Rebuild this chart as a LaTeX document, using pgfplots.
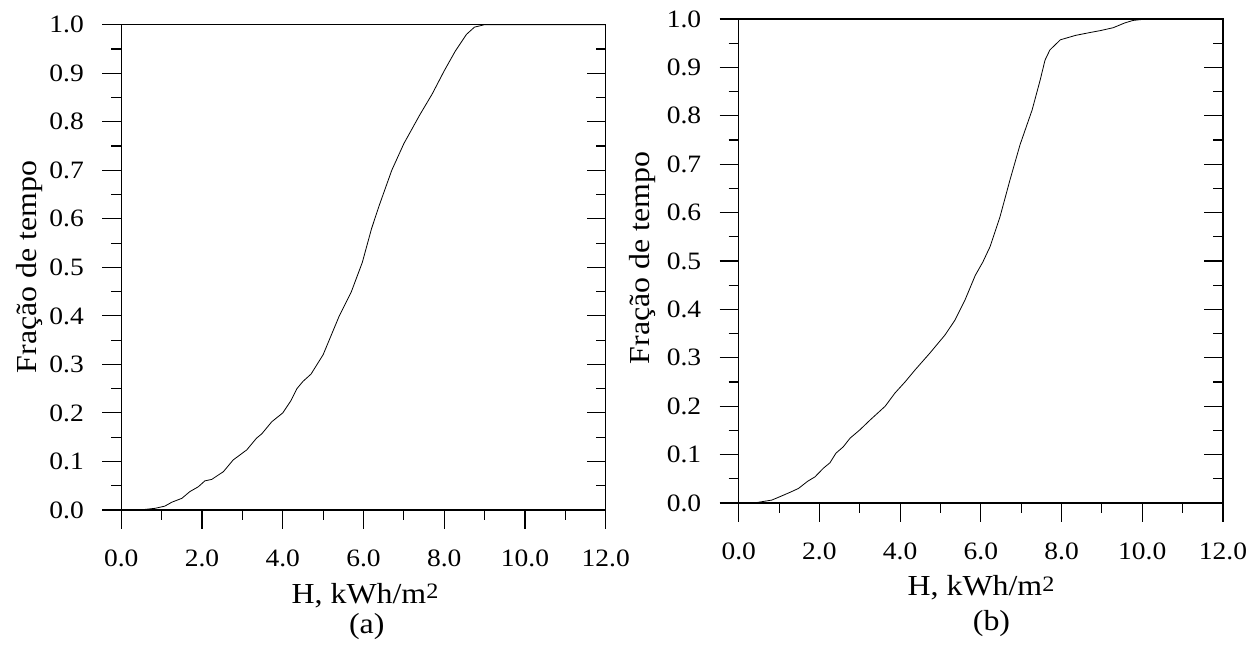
\documentclass[border=0pt]{standalone}
\usepackage{fontspec}
\setmainfont[FakeStretch=1.1]{Liberation Serif}
\usepackage{pgfplots}
\pgfplotsset{compat=1.18}
\pgfplotsset{
  basepanel/.style={
    scale only axis,
    anchor=origin,
    xmin=0,xmax=12,ymin=0,ymax=1,
    axis line style={line width=1.1pt,black},
    every tick/.style={line width=1.1pt,black},
    major tick length=19pt,
    minor tick length=10pt,
    xtick={0,2,4,6,8,10,12},
    ytick={0,0.1,0.2,0.3,0.4,0.5,0.6,0.7,0.8,0.9,1.0},
    minor x tick num=1,
    minor y tick num=1,
  },
  mainpanel/.style={
    basepanel,
    tick align=outside,
    xtick pos=bottom,
    ytick pos=left,
    xticklabels={0.0,2.0,4.0,6.0,8.0,10.0,12.0},
    yticklabels={0.0,0.1,0.2,0.3,0.4,0.5,0.6,0.7,0.8,0.9,1.0},
    tick label style={font=\fontsize{25}{25}\selectfont},
    xticklabel style={yshift=-17pt},
    yticklabel style={xshift=-15pt},
  },
  rightticks/.style={
    basepanel,
    tick align=inside,
    xtick=\empty,
    ytick pos=right,
    yticklabels={},
    axis line style={draw=none},
  },
}
\begin{document}
\begin{tikzpicture}
\useasboundingbox (0,0) rectangle (1258pt,647pt);
% ---------------- panel (a)
\begin{axis}[mainpanel,at={(121.3pt,137pt)},width=484.4pt,height=485.3pt]
\addplot[black,line width=0.8pt] coordinates {
(0,0) (0.46,0) (0.84,0.0035) (1.08,0.008) (1.25,0.016) (1.5,0.024) (1.7,0.038)
(1.91,0.048) (2.07,0.06) (2.24,0.063) (2.53,0.079) (2.77,0.103) (3.11,0.124)
(3.35,0.148) (3.48,0.157) (3.73,0.182) (4.0,0.2) (4.2,0.225) (4.35,0.25)
(4.5,0.265) (4.7,0.28) (5.0,0.32) (5.2,0.36) (5.4,0.4) (5.7,0.45) (5.97,0.51)
(6.2,0.58) (6.4,0.63) (6.7,0.70) (7.0,0.755) (7.4,0.815) (7.7,0.857) (8.0,0.905)
(8.27,0.945) (8.55,0.98) (8.75,0.995) (9.0,1.0) (12,1.0)};
\end{axis}
\begin{axis}[rightticks,at={(121.3pt,137pt)},width=484.4pt,height=485.3pt]
\end{axis}
% ---------------- panel (b)
\begin{axis}[mainpanel,at={(738.7pt,144pt)},width=484.3pt,height=484pt]
\addplot[black,line width=0.8pt] coordinates {
(0,0) (0.45,0.001) (0.82,0.006) (1.02,0.013) (1.27,0.022) (1.48,0.03) (1.71,0.045)
(1.89,0.054) (2.10,0.072) (2.26,0.083) (2.41,0.103) (2.59,0.116) (2.76,0.134)
(3.0,0.151) (3.25,0.171) (3.63,0.2) (3.87,0.227) (4.12,0.25) (4.37,0.275)
(4.74,0.31) (5.11,0.347) (5.36,0.378) (5.61,0.42) (5.86,0.47) (6.05,0.498)
(6.23,0.53) (6.47,0.59) (6.72,0.667) (6.97,0.74) (7.27,0.812) (7.47,0.874)
(7.59,0.915) (7.71,0.936) (7.97,0.957) (8.34,0.966) (8.7,0.972) (8.96,0.976)
(9.28,0.982) (9.57,0.992) (9.77,0.997) (10.1,1.0) (12,1.0)};
\end{axis}
\begin{axis}[rightticks,at={(738.7pt,144pt)},width=484.3pt,height=484pt]
\end{axis}
% ---------------- labels
\node[rotate=90,font=\fontsize{29}{29}\selectfont] at (30pt,380pt) {Fração de tempo};
\node[rotate=90,font=\fontsize{29}{29}\selectfont] at (643pt,389pt) {Fração de tempo};
\node[anchor=base,font=\fontsize{29}{29}\selectfont] at (365pt,43.7pt) {H, kWh/m\raisebox{4.6pt}{\fontsize{22}{22}\selectfont 2}};
\node[anchor=base,font=\fontsize{29}{29}\selectfont] at (981pt,51.3pt) {H, kWh/m\raisebox{4.6pt}{\fontsize{22}{22}\selectfont 2}};
\node[anchor=base,font=\fontsize{29}{29}\selectfont] at (366.7pt,13pt) {(a)};
\node[anchor=base,font=\fontsize{29}{29}\selectfont] at (991.5pt,16pt) {(b)};
\end{tikzpicture}
\end{document}
